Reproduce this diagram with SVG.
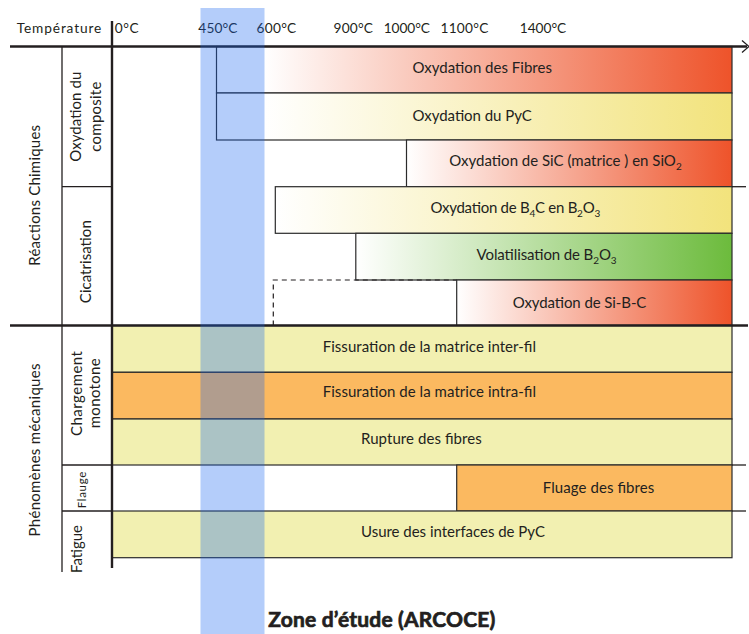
<svg xmlns="http://www.w3.org/2000/svg" width="749" height="634" viewBox="0 0 749 634">
<defs>
<style>
text{font-family:Lato,"Liberation Sans",sans-serif;fill:#231f20;}
.hd{font-size:13.7px;}
.bt{font-size:15px;}
.lb{font-size:15px;text-anchor:middle;}
.bar{stroke:#2b2b2b;stroke-width:1.2;}
.thick{stroke:#231f20;stroke-width:2.4;fill:none;}
.thin{stroke:#231f20;stroke-width:1.3;fill:none;}
.ylw{fill:#f2f0b1;}
.org{fill:#fbb960;}
.title{font-size:21px;font-weight:700;stroke:#231f20;stroke-width:0.7;}
</style>
<linearGradient id="gRedU" gradientUnits="userSpaceOnUse" x1="264" y1="0" x2="732" y2="0">
<stop offset="0" stop-color="#ffffff"/><stop offset="1" stop-color="#ee532a"/>
</linearGradient>
<linearGradient id="gYelU" gradientUnits="userSpaceOnUse" x1="264" y1="0" x2="732" y2="0">
<stop offset="0" stop-color="#ffffff"/><stop offset="1" stop-color="#f2e37c"/>
</linearGradient>
<linearGradient id="gRed" x1="0" y1="0" x2="1" y2="0">
<stop offset="0" stop-color="#ffffff"/><stop offset="1" stop-color="#ee532a"/>
</linearGradient>
<linearGradient id="gYel" x1="0" y1="0" x2="1" y2="0">
<stop offset="0" stop-color="#ffffff"/><stop offset="1" stop-color="#f2e37c"/>
</linearGradient>
<linearGradient id="gGrn" x1="0" y1="0" x2="1" y2="0">
<stop offset="0" stop-color="#ffffff"/><stop offset="1" stop-color="#6cbb3c"/>
</linearGradient>
</defs>
<rect width="749" height="634" fill="#ffffff"/>

<g id="header">
<text class="hd" x="16.7" y="33" textLength="84.6">Température</text>
<text class="hd" x="114.7" y="33" textLength="24">0°C</text>
<text class="hd" x="198.3" y="33" textLength="39.2">450°C</text>
<text class="hd" x="256.6" y="33" textLength="39.6">600°C</text>
<text class="hd" x="333.5" y="33" textLength="39.5">900°C</text>
<text class="hd" x="383.7" y="33" textLength="46.3">1000°C</text>
<text class="hd" x="440.5" y="33" textLength="47.8">1100°C</text>
<text class="hd" x="519.8" y="33" textLength="46.4">1400°C</text>
</g>

<g id="bar-fibres">
<rect class="bar" x="216.5" y="46.5" width="515.5" height="46.5" fill="url(#gRedU)"/>
<text class="bt" x="412.5" y="73.3" textLength="139.4">Oxydation des Fibres</text>
</g>
<g id="bar-pyc">
<rect class="bar" x="216.5" y="93" width="515.5" height="47" fill="url(#gYelU)"/>
<text class="bt" x="412.5" y="120.7" textLength="119.4">Oxydation du PyC</text>
</g>
<g id="bar-sic">
<rect class="bar" x="406.5" y="140" width="325.5" height="46.7" fill="url(#gRed)"/>
<text class="bt" x="449.3" y="166" textLength="232.4">Oxydation de SiC (matrice ) en SiO<tspan font-size="10" dy="4">2</tspan></text>
</g>
<g id="bar-b4c">
<rect class="bar" x="275.3" y="186.7" width="456.7" height="46.6" fill="url(#gYel)"/>
<text class="bt" x="430.4" y="213.3" textLength="169.8">Oxydation de B<tspan font-size="10" dy="4">4</tspan><tspan dy="-4">C en B</tspan><tspan font-size="10" dy="4">2</tspan><tspan dy="-4">O</tspan><tspan font-size="10" dy="4">3</tspan></text>
</g>
<g id="bar-volat">
<rect class="bar" x="355.8" y="233.3" width="376.2" height="46.7" fill="url(#gGrn)"/>
<text class="bt" x="476.6" y="260" textLength="140">Volatilisation de B<tspan font-size="10" dy="4">2</tspan><tspan dy="-4">O</tspan><tspan font-size="10" dy="4">3</tspan></text>
</g>
<g id="bar-sibc">
<path d="M273.3,325.5 V280 H456.7" fill="none" stroke="#231f20" stroke-width="1.2" stroke-dasharray="5,4"/>
<rect class="bar" x="456.7" y="280" width="275.3" height="45.5" fill="url(#gRed)"/>
<text class="bt" x="512.7" y="308.3" textLength="133.7">Oxydation de Si-B-C</text>
</g>

<g id="bar-inter">
<rect class="bar ylw" x="112" y="325.5" width="620" height="46.8"/>
<text class="bt" x="322.7" y="352.3" textLength="213.3">Fissuration de la matrice inter-fil</text>
</g>
<g id="bar-intra">
<rect class="bar org" x="112" y="372.3" width="620" height="46.7"/>
<text class="bt" x="322.7" y="397.3" textLength="213.3">Fissuration de la matrice intra-fil</text>
</g>
<g id="bar-rupture">
<rect class="bar ylw" x="112" y="419" width="620" height="46"/>
<text class="bt" x="361" y="444.3" textLength="120.7">Rupture des fibres</text>
</g>
<g id="bar-fluage">
<rect class="bar org" x="456.7" y="465" width="275.3" height="46"/>
<text class="bt" x="542.7" y="492.7" textLength="111.6">Fluage des fibres</text>
</g>
<g id="bar-usure">
<rect class="bar ylw" x="112" y="511" width="620" height="46.7"/>
<text class="bt" x="361" y="536.7" textLength="184">Usure des interfaces de PyC</text>
</g>

<g id="axes">
<line class="thick" x1="10" y1="46.5" x2="747" y2="46.5"/>
<polyline class="thin" points="742,40.5 749,46.5 742,52.5"/>
<line class="thick" x1="112" y1="21" x2="112" y2="568"/>
<line class="thin" x1="62" y1="46.5" x2="62" y2="572"/>
<line class="thick" x1="10" y1="325.5" x2="748" y2="325.5"/>
<line class="thin" x1="62" y1="186.7" x2="112" y2="186.7"/>
<line class="thin" x1="732" y1="186.7" x2="746" y2="186.7"/>
<line class="thin" x1="62" y1="465" x2="112" y2="465"/>
<line class="thin" x1="732" y1="465" x2="746" y2="465"/>
<line class="thin" x1="62" y1="511" x2="112" y2="511"/>
<line class="thin" x1="732" y1="511" x2="746" y2="511"/>
</g>

<g id="labels">
<text class="lb" transform="translate(39.5,195.3) rotate(-90)" textLength="140.7">Réactions Chimiques</text>
<text class="lb" transform="translate(81,116.7) rotate(-90)" textLength="90">Oxydation du</text>
<text class="lb" transform="translate(100.5,116.7) rotate(-90)" textLength="70">composite</text>
<text class="lb" transform="translate(90.5,261.7) rotate(-90)" textLength="83">Cicatrisation</text>
<text class="lb" transform="translate(40,450) rotate(-90)" textLength="173">Phénomènes mécaniques</text>
<text class="lb" transform="translate(81.5,393.5) rotate(-90)" textLength="85">Chargement</text>
<text class="lb" transform="translate(99.5,393.3) rotate(-90)" textLength="70">monotone</text>
<text class="lb" style="font-size:11.5px" transform="translate(86,490) rotate(-90)" textLength="36.6">Flauge</text>
<text class="lb" transform="translate(81.5,549) rotate(-90)" textLength="48">Fatigue</text>
</g>

<g id="zone">
<rect x="200.5" y="8" width="64" height="626" fill="rgb(22,100,240)" fill-opacity="0.32"/>
<text class="title" x="268.3" y="627" textLength="227">Zone d’étude (ARCOCE)</text>
</g>
</svg>
